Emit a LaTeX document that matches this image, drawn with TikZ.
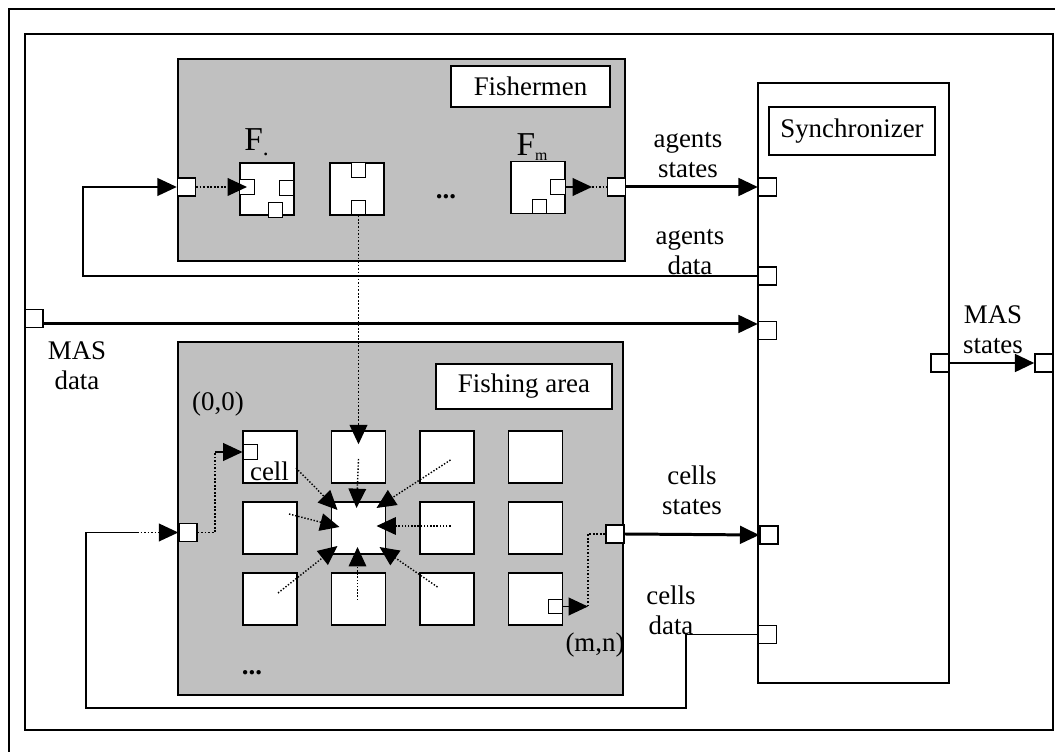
\documentclass[tikz,border=0pt]{standalone}
\usepackage{fontspec}
\setmainfont{Liberation Serif}
\usetikzlibrary{arrows.meta}
\definecolor{areagray}{RGB}{192,192,192}
\tikzset{
  graybox/.style={draw, fill=areagray, line width=0.8pt, inner sep=0pt},
  titlebox/.style={draw, fill=white, line width=1pt, inner sep=0pt},
  cellbox/.style={draw, fill=white, line width=0.8pt, minimum width=1.08cm, minimum height=1.04cm, inner sep=0pt},
  portbox/.style={draw, fill=white, line width=0.8pt, minimum size=0.36cm, inner sep=0pt},
  smallport/.style={draw, fill=white, line width=0.8pt, minimum size=0.29cm, inner sep=0pt},
  statesline/.style={line width=1.7pt},
  dataline/.style={line width=1.1pt},
  dotline/.style={line width=1pt, densely dotted},
  nbline/.style={line width=0.8pt, densely dotted},
}

\begin{document}
\begin{tikzpicture}[font=\fontsize{15.3}{17}\selectfont, >={Triangle[length=11pt,width=10pt]}]
\useasboundingbox (0,0) rectangle (21.1,15.04);

\draw [line width=1.1pt] (0.18,0) -- (0.18,14.86) -- (21.1,14.86);
\draw [line width=1.1pt] (0.5,0.44) rectangle (21.06,14.36);

% Fishermen
\node [graybox, minimum width=8.94cm, minimum height=4.04cm] (fishermen) at (8.03,11.84) {};
\node [titlebox, minimum width=3.18cm, minimum height=0.82cm] (fishtitle) at (10.61,13.31) {Fishermen};

\node [cellbox] (f1) at (5.34,11.26) {};
\node [smallport] (f1l) at (4.94,11.3) {};
\node [smallport] (f1r) at (5.73,11.28) {};
\node [smallport] (f1b) at (5.51,10.84) {};

\node [cellbox] (f2) at (7.14,11.26) {};
\node [smallport] (f2t) at (7.17,11.64) {};
\node [smallport] (f2b) at (7.17,10.89) {};

\node [cellbox] (fm) at (10.76,11.29) {};
\node [smallport] (fmr) at (11.16,11.3) {};
\node [smallport] (fmb) at (10.79,10.91) {};

\node [font=\fontsize{19}{20}\selectfont] (f1lab) at (5.14,12.2) {F\textsubscript{.}};
\node [font=\fontsize{19}{20}\selectfont] (fmlab) at (10.64,12.1) {F\raisebox{-3pt}{\fontsize{9}{10}\selectfont m}};
\node (fdots) at (8.92,11.1) {\textbf{...}};

\node [portbox] (fin) at (3.73,11.3) {};
\node [portbox] (fout) at (12.33,11.3) {};

% Synchronizer
\node [draw, fill=white, line width=0.8pt, minimum width=3.82cm, minimum height=12cm] (sync) at (17.07,7.38) {};
\node [titlebox, minimum width=3.32cm, minimum height=0.96cm] (synctitle) at (17.04,12.42) {Synchronizer};
\node [portbox] (sas) at (15.35,11.3) {};
\node [portbox] (sad) at (15.35,9.52) {};
\node [portbox] (smd) at (15.35,8.43) {};
\node [portbox] (scs) at (15.38,4.34) {};
\node [portbox] (scd) at (15.35,2.35) {};
\node [portbox] (smso) at (18.8,7.78) {};

\node [portbox] (frmso) at (20.88,7.78) {};
\node [portbox] (frmdi) at (0.68,8.67) {};

% Fishing area
\node [graybox, minimum width=8.9cm, minimum height=7.06cm] (fisharea) at (8.01,4.67) {};
\node [titlebox, minimum width=3.52cm, minimum height=0.9cm] (areatitle) at (10.48,7.31) {Fishing area};

\node [cellbox] (c00) at (5.4,5.9) {};
\node [cellbox] (c10) at (7.17,5.9) {};
\node [cellbox] (c20) at (8.94,5.9) {};
\node [cellbox] (c30) at (10.71,5.9) {};
\node [cellbox] (c01) at (5.4,4.48) {};
\node [cellbox] (c11) at (7.17,4.48) {};
\node [cellbox] (c21) at (8.94,4.48) {};
\node [cellbox] (c31) at (10.71,4.48) {};
\node [cellbox] (c02) at (5.4,3.06) {};
\node [cellbox] (c12) at (7.17,3.06) {};
\node [cellbox] (c22) at (8.94,3.06) {};
\node [cellbox] (c32) at (10.71,3.06) {};

\node [smallport] (c00p) at (5.01,6.0) {};
\node [smallport] (c32p) at (11.11,2.91) {};

\node (celllab) at (5.39,5.62) {cell};
\node (origin) at (4.36,6.96) {(0,0)};
\node (corner) at (11.9,2.14) {(m,n)};
\node (adots) at (5.04,1.58) {\textbf{...}};

\node [portbox] (fain) at (3.76,4.39) {};
\node [portbox] (faout) at (12.3,4.36) {};

% labels
\node [align=center] (agstates) at (13.76,11.93) {agents\\states};
\node [align=center] (agdata) at (13.8,9.99) {agents\\data};
\node [align=center] (masdata) at (1.54,7.73) {MAS\\data};
\node [align=center] (masstates) at (19.86,8.45) {MAS\\states};
\node [align=center] (cellstates) at (13.84,5.23) {cells\\states};
\node [align=center] (celldata) at (13.42,2.84) {cells\\data};

\coordinate (agback) at (1.66,11.3);
\coordinate (fmtip) at (11.84,11.3);
\coordinate (cellin) at (4.3,6.0);
\coordinate (cellout) at (11.76,2.91);
\coordinate (cdback1) at (13.72,0.88);
\coordinate (cdback2) at (1.72,4.39);
\coordinate (cdmid) at (2.74,4.39);

% connectors
\draw [->, dataline] (sad.west) -| (agback) -- (fin.west);
\draw [->, dotline] (fin.east) -- (f1l.center);
\draw [->, dataline] (fmr.east) -- (fmtip);
\draw [dotline] (fmtip) -- (fout.west);
\draw [->, statesline] (fout.east) -- (sas.west);

\draw [->, statesline] (frmdi.east |- 0,8.56) -- (smd.west |- 0,8.56);
\draw [->, statesline] (smso.east) -- (frmso.west);

\draw [->, dotline] (f2b.south) -- ([yshift=-0.28cm]c10.north);

\draw [->, nbline] ([xshift=0.52cm,yshift=-0.22cm]c00.center) -- ([xshift=-0.42cm,yshift=0.36cm]c11.center);
\draw [->, nbline] ([yshift=-0.04cm]c10.center) -- ([xshift=-0.04cm,yshift=0.4cm]c11.center);
\draw [->, nbline] ([xshift=0.07cm,yshift=-0.06cm]c20.center) -- ([xshift=0.36cm,yshift=0.4cm]c11.center);
\draw [->, nbline] ([xshift=0.38cm,yshift=0.28cm]c01.center) -- ([xshift=-0.38cm,yshift=0.02cm]c11.center);
\draw [->, nbline] ([xshift=0.07cm,yshift=0.04cm]c21.center) -- ([xshift=0.36cm,yshift=0.04cm]c11.center);
\draw [->, nbline] ([xshift=0.16cm,yshift=0.12cm]c02.center) -- ([xshift=-0.42cm,yshift=-0.36cm]c11.center);
\draw [->, nbline] ([xshift=-0.02cm,yshift=-0.02cm]c12.center) -- ([xshift=-0.02cm,yshift=-0.38cm]c11.center);
\draw [->, nbline] ([xshift=-0.19cm,yshift=0.24cm]c22.center) -- ([xshift=0.42cm,yshift=-0.38cm]c11.center);

\draw [dotline] (fain.east) -| (cellin);
\draw [->, dataline] (cellin) -- (c00p.west);
\draw [->, dataline] (c32p.east) -- (cellout);
\draw [dotline] (cellout) |- (faout.west);
\draw [->, statesline] (faout.east) -- (scs.west);
\draw [dataline] (scd.west) -| (cdback1) -| (cdback2) -- (cdmid);
\draw [->, dotline] (cdmid) -- (fain.west);
\end{tikzpicture}
\end{document}
